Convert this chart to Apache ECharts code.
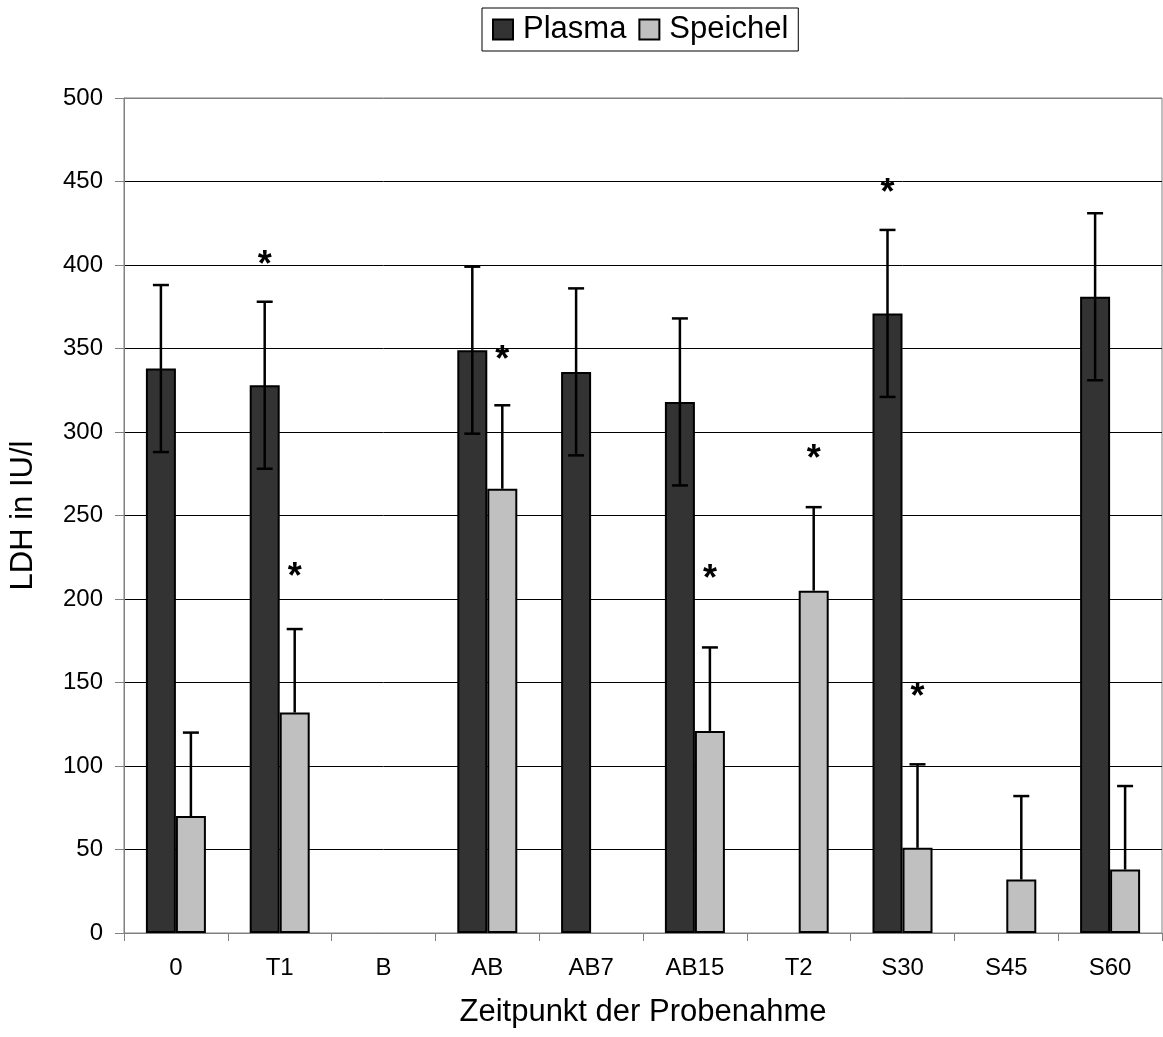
<!DOCTYPE html>
<html>
<head>
<meta charset="utf-8">
<script src="https://cdn.jsdelivr.net/npm/echarts@6/dist/echarts.min.js"></script>
<style>
    html, body { margin: 0; padding: 0; background: #ffffff; }
    #chart { width: 1163px; height: 1037px; }
</style>
</head>
<body>
<div id="chart"></div>
<script>
const categories = ['0', 'T1', 'B', 'AB', 'AB7', 'AB15', 'T2', 'S30', 'S45', 'S60']
const plasma = [338, 328, null, 349, 336, 318, null, 371, null, 381]
const plasmaErr = [50, 50, null, 50, 50, 50, null, 50, null, 50]
const speichel = [70, 132, null, 266, null, 121, 205, 51, 32, 38]
const speichelErr = [50, 50, null, 50, null, 50, 50, 50, 50, 50]
// positions of the significance stars (category index, value)
const plasmaStars = [[1, 406], [7, 449]]
const speichelStars = [[1, 219], [3, 349], [5, 218], [6, 290], [7, 147]]

const FONT = 'Liberation Sans, Arial, sans-serif'
const BAR_W = 30

const chart = echarts.init(document.getElementById('chart'))

function errorSeries(name, values, errs, offset, lower) {
    return {
        name: name,
        type: 'custom',
        z: 5,
        silent: true,
        data: values.map((v, i) => (v == null ? null : [i, v, errs[i]])).filter(d => d),
        renderItem(params, api) {
            const i = api.value(0)
            const v = api.value(1)
            const e = api.value(2)
            const mid = api.coord([i, v])
            const top = api.coord([i, v + e])
            const bot = lower ? api.coord([i, v - e]) : mid
            const x = mid[0] + offset
            const style = { stroke: '#000000', lineWidth: 2.5 }
            const children = [
                { type: 'line', shape: { x1: x, y1: top[1], x2: x, y2: bot[1] }, style },
                { type: 'line', shape: { x1: x - 8, y1: top[1], x2: x + 8, y2: top[1] }, style }
            ]
            if (lower) {
                children.push({ type: 'line', shape: { x1: x - 8, y1: bot[1], x2: x + 8, y2: bot[1] }, style })
            }
            return { type: 'group', children }
        }
    }
}

function starSeries(data, offset) {
    return {
        type: 'scatter',
        symbolSize: 0,
        z: 6,
        silent: true,
        data: data,
        itemStyle: { opacity: 1 },
        label: {
            show: true,
            position: 'inside',
            offset: [offset, 11],
            formatter: '*',
            fontFamily: FONT,
            fontSize: 36,
            fontWeight: 'bold',
            color: '#000000',
            opacity: 1
        }
    }
}

// last split line (500) is the grey plot border
const splitColors = ['#000000', '#000000', '#000000', '#000000', '#000000', '#000000',
    '#000000', '#000000', '#000000', '#000000', '#808080']

const option = {
    animation: false,
    backgroundColor: '#ffffff',
    textStyle: { fontFamily: FONT },
    legend: {
        top: 8,
        left: 482,
        data: [{ name: 'Plasma', icon: 'rect' }, { name: 'Speichel', icon: 'rect' }],
        itemWidth: 20,
        itemHeight: 20,
        itemGap: 12,
        padding: [6, 10, 6, 10],
        borderColor: '#000000',
        borderWidth: 1,
        textStyle: { fontSize: 31, color: '#000000', fontFamily: FONT, padding: [0, 0, 0, 5] }
    },
    grid: {
        left: 122,
        right: 1,
        top: 98,
        bottom: 104,
        show: true,
        borderColor: '#808080',
        borderWidth: 1
    },
    xAxis: {
        type: 'category',
        data: categories,
        name: 'Zeitpunkt der Probenahme',
        nameLocation: 'middle',
        nameGap: 64,
        nameTextStyle: { fontSize: 31, color: '#000000', fontFamily: FONT },
        axisLine: { lineStyle: { color: '#808080', width: 1 } },
        axisTick: { show: true, alignWithLabel: false, length: 8, lineStyle: { color: '#808080' } },
        axisLabel: { fontSize: 24, color: '#000000', margin: 23, fontFamily: FONT }
    },
    yAxis: {
        type: 'value',
        min: 0,
        max: 500,
        interval: 50,
        name: 'LDH in IU/l',
        nameLocation: 'middle',
        nameGap: 85,
        nameTextStyle: { fontSize: 31, color: '#000000', fontFamily: FONT },
        axisLine: { show: true, lineStyle: { color: '#808080', width: 1 } },
        axisTick: { show: true, length: 9, lineStyle: { color: '#808080' } },
        axisLabel: { fontSize: 24, color: '#000000', margin: 21, fontFamily: FONT },
        splitLine: { show: true, lineStyle: { color: splitColors, width: 1 } }
    },
    series: [
        {
            name: 'Plasma',
            type: 'bar',
            data: plasma,
            barWidth: BAR_W,
            barGap: '0%',
            itemStyle: { color: '#333333', borderColor: '#000000', borderWidth: 2 }
        },
        {
            name: 'Speichel',
            type: 'bar',
            data: speichel,
            barWidth: BAR_W,
            barGap: '0%',
            itemStyle: { color: '#c0c0c0', borderColor: '#000000', borderWidth: 2 }
        },
        errorSeries('PlasmaErr', plasma, plasmaErr, -BAR_W / 2, true),
        errorSeries('SpeichelErr', speichel, speichelErr, BAR_W / 2, false),
        starSeries(plasmaStars, -BAR_W / 2),
        starSeries(speichelStars, BAR_W / 2)
    ]
}

chart.setOption(option)
</script>
</body>
</html>
